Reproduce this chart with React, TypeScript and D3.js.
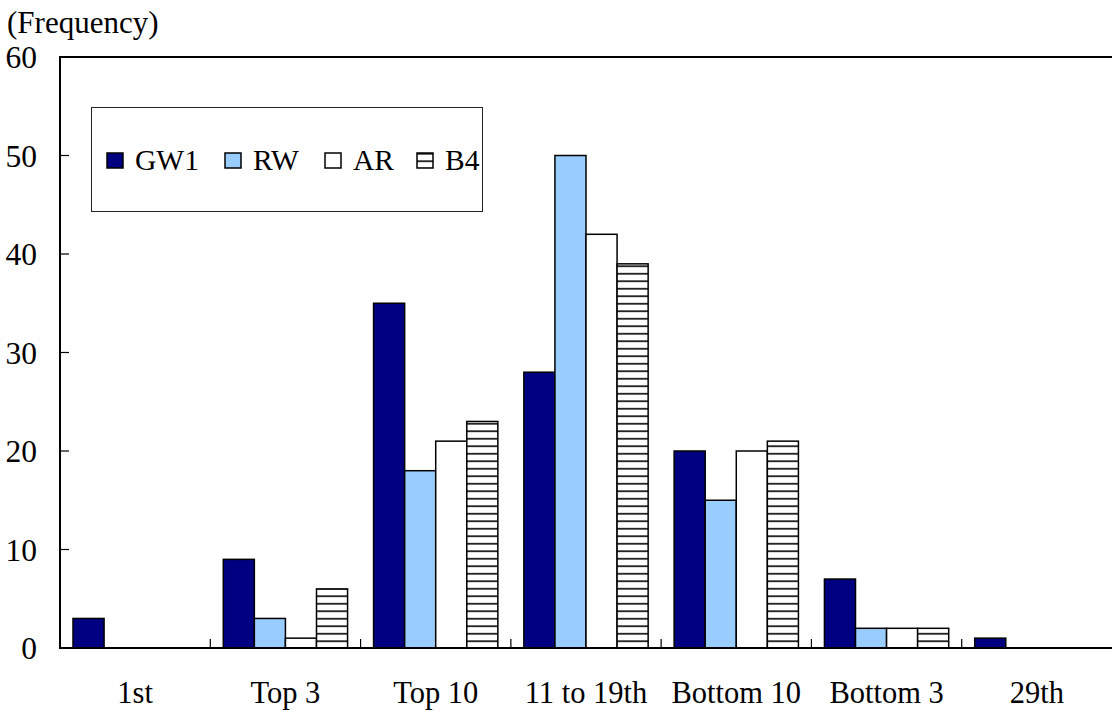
import React from "react";
import * as d3 from "d3";

const categories = ["1st", "Top 3", "Top 10", "11 to 19th", "Bottom 10", "Bottom 3", "29th"];
const seriesNames = ["GW1", "RW", "AR", "B4"];
const gw1 = [3, 9, 35, 28, 20, 7, 1];
const rw = [0, 3, 18, 50, 15, 2, 0];
const ar = [0, 1, 21, 42, 20, 2, 0];
const b4 = [0, 6, 23, 39, 21, 2, 0];
const yTicks = [0, 10, 20, 30, 40, 50, 60];

const W = 1112;
const H = 713;
const left = 60;
const right = 1112;
const top = 57;
const bottom = 648;
const FONT = "'Liberation Serif', 'Times New Roman', serif";

const fills = ["#000080", "#99CCFF", "#FFFFFF", "url(#hatchB4)"];
const legendX = [107, 225, 325, 417];

export default function App() {
  const values = [gw1, rw, ar, b4];
  const x0 = d3.scaleBand<string>().domain(categories).range([left, right]).paddingInner(0).paddingOuter(0);
  const inner = d3
    .scaleBand<string>()
    .domain(seriesNames)
    .range([13, x0.bandwidth() - 13]);
  const y = d3.scaleLinear().domain([0, 60]).range([bottom, top]);

  return (
    <svg width={W} height={H} style={{ position: "absolute", left: 0, top: 0, background: "#fff" }}>
      <defs>
        <pattern id="hatchB4" patternUnits="userSpaceOnUse" width={8} height={7.5}>
          <rect width={8} height={7.5} fill="#fff" />
          <line x1={0} x2={8} y1={3.75} y2={3.75} stroke="#000" strokeWidth={1.6} />
        </pattern>
      </defs>
      <rect x={0} y={0} width={W} height={H} fill="#fff" />

      {/* y-axis label */}
      <text x={7} y={33} fontFamily={FONT} fontSize={31} fill="#000">
        (Frequency)
      </text>

      {/* bars */}
      {categories.map((c, ci) =>
        seriesNames.map((s, si) => {
          const v = values[si][ci];
          if (v <= 0) return null;
          const bx = (x0(c) as number) + (inner(s) as number);
          return (
            <rect
              key={c + s}
              x={bx}
              y={y(v)}
              width={inner.bandwidth()}
              height={bottom - y(v)}
              fill={fills[si]}
              stroke="#000"
              strokeWidth={1.5}
            />
          );
        })
      )}

      {/* plot frame */}
      <rect x={left} y={top} width={right - left + 10} height={bottom - top} fill="none" stroke="#000" strokeWidth={2} />

      {/* y ticks and labels */}
      {yTicks.map((t) => (
        <g key={t}>
          {t > 0 && t < 60 && <line x1={left} x2={left + 9} y1={y(t)} y2={y(t)} stroke="#000" strokeWidth={1.2} />}
          <text
            x={37}
            y={y(t)}
            dy="0.35em"
            textAnchor="end"
            fontFamily={FONT}
            fontSize={31.5}
            fill="#000"
          >
            {t}
          </text>
        </g>
      ))}

      {/* x ticks at category boundaries */}
      {categories.slice(1).map((c) => (
        <line
          key={"t" + c}
          x1={x0(c) as number}
          x2={x0(c) as number}
          y1={bottom}
          y2={bottom - 9}
          stroke="#000"
          strokeWidth={1.2}
        />
      ))}

      {/* x labels */}
      {categories.map((c) => (
        <text
          key={"l" + c}
          x={(x0(c) as number) + x0.bandwidth() / 2}
          y={703}
          textAnchor="middle"
          fontFamily={FONT}
          fontSize={30.5}
          fill="#000"
        >
          {c}
        </text>
      ))}

      {/* legend */}
      <rect x={91.5} y={107.5} width={391} height={104} fill="#fff" stroke="#222" strokeWidth={1} />
      {seriesNames.map((s, i) => (
        <g key={"lg" + s}>
          <rect
            x={legendX[i]}
            y={153}
            width={16}
            height={15}
            fill={fills[i]}
            stroke="#000"
            strokeWidth={1.5}
          />
          <text x={legendX[i] + 28} y={170} fontFamily={FONT} fontSize={29.5} fill="#000">
            {s}
          </text>
        </g>
      ))}
    </svg>
  );
}
